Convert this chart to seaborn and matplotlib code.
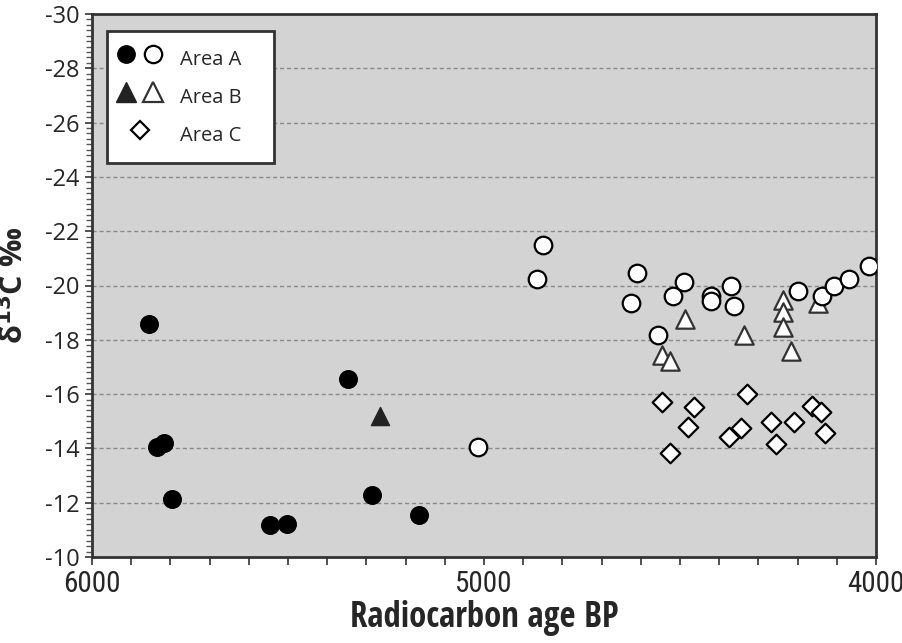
import os
import matplotlib
matplotlib.use("Agg")
import matplotlib.pyplot as plt
from matplotlib.ticker import MultipleLocator, FixedLocator, FuncFormatter
from matplotlib.legend_handler import HandlerTuple
from matplotlib.lines import Line2D
from matplotlib.font_manager import FontProperties
import seaborn as sns
import pandas as pd
from matplotlib import font_manager as fm

# ---- data (radiocarbon age BP, delta13C permil) ----
a_filled_age = [5855, 5835, 5816, 5796, 5547, 5503, 5346, 5286, 5166]
a_filled_d13c = [-18.6, -14.05, -14.2, -12.15, -11.17, -11.23, -16.55, -12.28, -11.56]

a_open_age = [5016, 4849, 4866, 4609, 4626, 4557, 4519, 4489, 4421, 4421,
              4369, 4361, 4198, 4138, 4107, 4070, 4017]
a_open_d13c = [-14.05, -21.5, -20.25, -20.45, -19.37, -18.19, -19.61, -20.13, -19.63, -19.43,
               -20.0, -19.23, -19.81, -19.61, -20.0, -20.25, -20.72]

b_filled_age = [5266]
b_filled_d13c = [-15.2]

b_open_age = [4547, 4526, 4486, 4337, 4238, 4238, 4238, 4217, 4148]
b_open_d13c = [-17.44, -17.21, -18.77, -18.18, -19.47, -19.04, -18.48, -17.59, -19.37]

c_open_age = [4547, 4526, 4479, 4465, 4375, 4345, 4328, 4269, 4255, 4208, 4162, 4140, 4131]
c_open_d13c = [-15.72, -13.83, -14.8, -15.54, -14.42, -14.75, -16.0, -14.96, -14.15, -14.96,
               -15.56, -15.33, -14.56]

legend_labels = ["Area A", "Area B", "Area C"]
x_tick_labels = [6000, 5000, 4000]
y_tick_values = [-10, -12, -14, -16, -18, -20, -22, -24, -26, -28, -30]

sns.set_theme(style="white")
plt.rcParams['font.family'] = ["Open Sans", "DejaVu Sans"]


# ---- find condensed / narrow font files for the x axis texts ----
def _w(f):
    w = f.weight
    if isinstance(w, str):
        w = fm.weight_dict.get(w, 400)
    return w


def _is_cond(f):
    b = os.path.basename(f.fname).lower()
    return ("condensed" in b or "narrow" in b or "condensed" in f.name.lower()
            or "narrow" in f.name.lower()
            or str(f.stretch).lower() in ("condensed", "semi-condensed"))


cands = [f for f in fm.fontManager.ttflist if _is_cond(f) and f.style == "normal"
         and "extra" not in os.path.basename(f.fname).lower()
         and "semi" not in os.path.basename(f.fname).lower()]
pref = ["Liberation Sans Narrow", "Open Sans", "Roboto", "Noto Sans", "Lato", "DejaVu Sans"]


def _pick(bold):
    best = None
    for f in cands:
        w = _w(f)
        ok = (w >= 600) if bold else (350 <= w <= 500)
        if not ok:
            continue
        rank = next((i for i, p in enumerate(pref) if f.name.startswith(p)), 99)
        if best is None or rank < best[0]:
            best = (rank, f.fname)
    return best[1] if best else None


reg_file = _pick(False)
bold_file = _pick(True)

if reg_file:
    xtick_fp = FontProperties(fname=reg_file, size=21)
else:
    xtick_fp = FontProperties(family=["Open Sans", "DejaVu Sans"], size=18)
if bold_file:
    xlabel_fp = FontProperties(fname=bold_file, size=25)
else:
    xlabel_fp = FontProperties(family=["Open Sans", "DejaVu Sans"], weight="bold", size=19)

fig = plt.figure(figsize=(9.03, 6.43), dpi=100)
ax = fig.add_axes([92 / 903, (643 - 557) / 643, 784 / 903, 543 / 643])
ax.set_facecolor("#d3d3d3")


def frame(age, val):
    return pd.DataFrame({"age": age, "d13c": val})


common = dict(ax=ax, legend=False, zorder=3)
sns.scatterplot(data=frame(a_filled_age, a_filled_d13c), x="age", y="d13c", marker="o",
                s=160, color="black", edgecolor="black", linewidth=1.0, **common)
sns.scatterplot(data=frame(b_filled_age, b_filled_d13c), x="age", y="d13c", marker="^",
                s=170, color="#222222", edgecolor="#222222", linewidth=1.0, **common)
sns.scatterplot(data=frame(c_open_age, c_open_d13c), x="age", y="d13c", marker="D",
                s=100, color="white", edgecolor="black", linewidth=1.6, **common)
sns.scatterplot(data=frame(b_open_age, b_open_d13c), x="age", y="d13c", marker="^",
                s=175, color="white", edgecolor="#333333", linewidth=1.6, **common)
sns.scatterplot(data=frame(a_open_age, a_open_d13c), x="age", y="d13c", marker="o",
                s=160, color="white", edgecolor="black", linewidth=1.6, **common)

ax.set_xlim(6000, 4000)
ax.set_ylim(-10, -30)

ax.xaxis.set_major_locator(MultipleLocator(100))
ax.xaxis.set_major_formatter(FuncFormatter(
    lambda v, p: f"{int(round(v))}" if int(round(v)) in x_tick_labels else ""))
ax.yaxis.set_major_locator(FixedLocator(y_tick_values))
ax.yaxis.set_minor_locator(MultipleLocator(0.2))
ax.yaxis.set_major_formatter(FuncFormatter(lambda v, p: f"{int(round(v))}"))

ax.tick_params(axis="x", which="major", direction="out", length=6, width=1.2,
               color="#333333", pad=3, bottom=True)
ax.tick_params(axis="y", which="major", direction="out", length=5, width=1.2,
               color="#333333", pad=4, labelsize=17, left=True)
ax.tick_params(axis="y", which="minor", direction="out", length=4, width=1.0,
               color="#555555", left=True)
for lab in ax.get_xticklabels():
    lab.set_fontproperties(xtick_fp)

for v in y_tick_values[1:-1]:
    ax.axhline(v, color="#8a8a8a", linewidth=1.0, linestyle=(0, (3, 2)), zorder=1)

for sp in ax.spines.values():
    sp.set_color("#333333")
    sp.set_linewidth(2.0)

ax.set_xlabel("Radiocarbon age BP", fontproperties=xlabel_fp, labelpad=2)
ax.set_ylabel(r"δ$^{\mathbf{13}}$C ‰", fontsize=22, fontweight="bold", labelpad=10)

fs = 14.5
h_a = (Line2D([], [], marker="o", linestyle="", markersize=12.5, markerfacecolor="black",
              markeredgecolor="black"),
       Line2D([], [], marker="o", linestyle="", markersize=12.5, markerfacecolor="white",
              markeredgecolor="black", markeredgewidth=1.6))
h_b = (Line2D([], [], marker="^", linestyle="", markersize=14, markerfacecolor="#222222",
              markeredgecolor="#222222"),
       Line2D([], [], marker="^", linestyle="", markersize=14, markerfacecolor="white",
              markeredgecolor="#333333", markeredgewidth=1.6))
h_c = (Line2D([], [], marker="D", linestyle="", markersize=9.5, markerfacecolor="white",
              markeredgecolor="black", markeredgewidth=1.6),)
leg_w = (274 - 107) / 784
leg_h = (166 - 31) / 543
leg_top = (557 - 31) / 543
leg = ax.legend([h_a, h_b, h_c], legend_labels,
                handler_map={tuple: HandlerTuple(ndivide=None, pad=0.65)},
                loc="upper left", bbox_to_anchor=(0.019, leg_top - leg_h, leg_w, leg_h),
                mode="expand", fontsize=fs,
                frameon=True, fancybox=False, handlelength=2.04, handleheight=2.0,
                handletextpad=1.0, labelspacing=0.35, borderpad=0.6, borderaxespad=0)
fr = leg.get_frame()
fr.set_edgecolor("#333333")
fr.set_linewidth(2.0)
fr.set_facecolor("white")
fr.set_alpha(1)

fig.savefig("out.png", dpi=100)
